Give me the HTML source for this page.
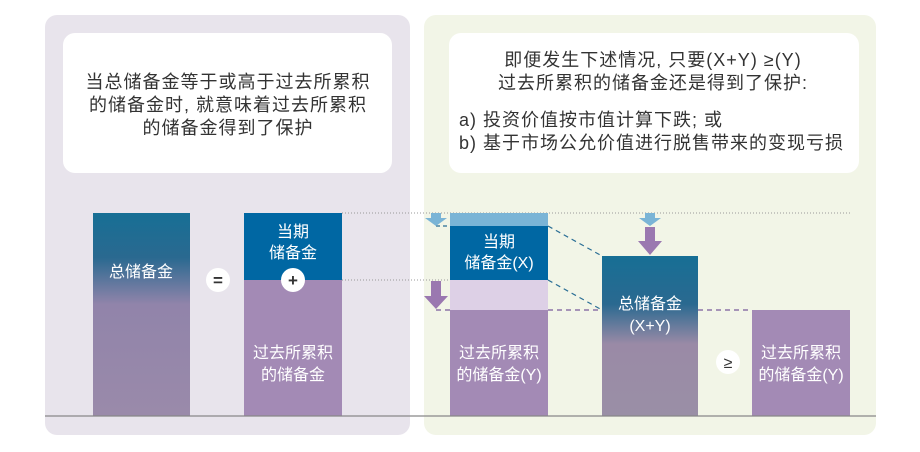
<!DOCTYPE html>
<html><head><meta charset="utf-8"><style>
html,body{margin:0;padding:0;background:#fff;}
svg{display:block;}
text{font-family:"Liberation Sans","Noto Sans CJK SC",sans-serif;}
</style></head><body>
<svg width="920" height="452" viewBox="0 0 920 452" xmlns="http://www.w3.org/2000/svg">
<defs>
<linearGradient id="g1" x1="0" y1="0" x2="0" y2="1">
<stop offset="0" stop-color="#176f95"/><stop offset="0.22" stop-color="#2a6990"/><stop offset="0.45" stop-color="#9184aa"/><stop offset="1" stop-color="#9a8aaa"/>
</linearGradient>
<linearGradient id="g2" x1="0" y1="0" x2="0" y2="1">
<stop offset="0" stop-color="#176f95"/><stop offset="0.3" stop-color="#2a6990"/><stop offset="0.55" stop-color="#9a8aa6"/><stop offset="1" stop-color="#9a8fa6"/>
</linearGradient>
</defs>
<rect x="45" y="15" width="365" height="420" rx="12" fill="#e8e4ec"/>
<rect x="424" y="15" width="452" height="420" rx="12" fill="#f2f5e7"/>
<rect x="63" y="33" width="329" height="140" rx="12" fill="#fff"/>
<rect x="449" y="33" width="410" height="140" rx="12" fill="#fff"/>
<g font-size="18" fill="#333" text-anchor="middle" letter-spacing="1">
<text x="228" y="88">当总储备金等于或高于过去所累积</text>
<text x="228" y="111">的储备金时, 就意味着过去所累积</text>
<text x="228" y="134">的储备金得到了保护</text>
<text x="653" y="66">即便发生下述情况, 只要(X+Y) ≥(Y)</text>
<text x="653" y="89">过去所累积的储备金还是得到了保护:</text>
</g>
<g font-size="18" fill="#333" letter-spacing="1">
<text x="459" y="126">a) 投资价值按市值计算下跌; 或</text>
<text x="459" y="149">b) 基于市场公允价值进行脱售带来的变现亏损</text>
</g>
<rect x="93" y="213" width="97" height="203" fill="url(#g1)"/>
<rect x="244" y="213" width="98" height="67" fill="#0067a3"/>
<rect x="244" y="280" width="98" height="136" fill="#a38ab5"/>
<line x1="342" y1="213" x2="850" y2="213" stroke="#999" stroke-width="1" stroke-dasharray="1,2"/>
<line x1="342" y1="280" x2="450" y2="280" stroke="#999" stroke-width="1" stroke-dasharray="1,2"/>
<rect x="450" y="213" width="98" height="13" fill="#7ab4d6"/>
<rect x="450" y="226" width="98" height="54" fill="#0067a3"/>
<rect x="450" y="280" width="98" height="30" fill="#ddd0e6"/>
<rect x="450" y="310" width="98" height="106" fill="#a38ab5"/>
<rect x="602" y="256" width="96" height="160" fill="url(#g2)"/>
<rect x="752" y="310" width="98" height="106" fill="#a38ab5"/>
<g stroke="#2a6e95" stroke-width="1.2" stroke-dasharray="5,4" fill="none">
<line x1="548" y1="226" x2="602" y2="256"/>
<line x1="548" y1="280" x2="602" y2="310"/>
</g>
<g stroke="#7a5a9a" stroke-width="1.2" stroke-dasharray="5,4">
<line x1="436" y1="310" x2="450" y2="310"/>
<line x1="548" y1="310" x2="602" y2="310"/>
<line x1="698" y1="310" x2="752" y2="310"/>
</g>
<line x1="436" y1="226" x2="450" y2="226" stroke="#2a6e95" stroke-width="1.2" stroke-dasharray="4,3"/>
<polygon points="431,213 441,213 441,218 447,218 436,226 425,218 431,218" fill="#7ab4d6"/>
<polygon points="431,281 441,281 441,296 448,296 436,309 424,296 431,296" fill="#9a78b0"/>
<polygon points="645,213 655,213 655,218 661,218 650,226 639,218 645,218" fill="#7ab4d6"/>
<polygon points="645,227 655,227 655,241 662,241 650,255 638,241 645,241" fill="#9a78b0"/>
<line x1="45" y1="416" x2="876" y2="416" stroke="#888" stroke-width="1.2"/>
<circle cx="218" cy="280" r="12" fill="#fff"/>
<text x="218" y="286" font-size="17" text-anchor="middle" fill="#333" font-weight="bold">=</text>
<circle cx="293" cy="280" r="12" fill="#fff"/>
<text x="293" y="286" font-size="17" text-anchor="middle" fill="#333" font-weight="bold">+</text>
<circle cx="728" cy="362" r="12" fill="#fff"/>
<text x="728" y="368" font-size="16" text-anchor="middle" fill="#333">≥</text>
<g font-size="16" fill="#fff" text-anchor="middle">
<text x="141" y="277">总储备金</text>
<text x="293" y="237">当期</text>
<text x="293" y="258">储备金</text>
<text x="293" y="358">过去所累积</text>
<text x="293" y="380">的储备金</text>
<text x="499" y="247">当期</text>
<text x="499" y="268">储备金(X)</text>
<text x="499" y="358">过去所累积</text>
<text x="499" y="380">的储备金(Y)</text>
<text x="650" y="309">总储备金</text>
<text x="650" y="331">(X+Y)</text>
<text x="801" y="358">过去所累积</text>
<text x="801" y="380">的储备金(Y)</text>
</g>
</svg>
</body></html>
